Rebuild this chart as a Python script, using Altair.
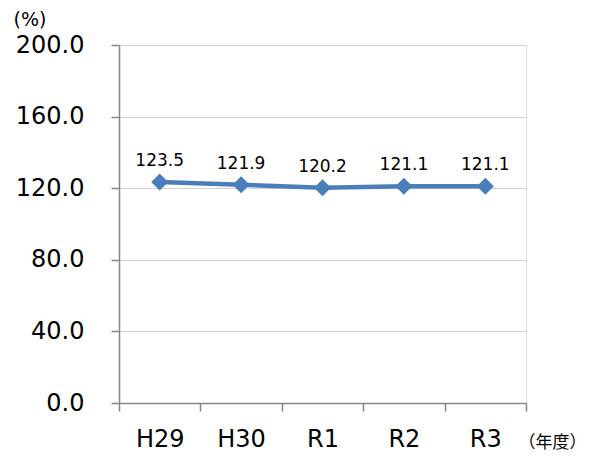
import altair as alt
import pandas as pd

years = ["H29", "H30", "R1", "R2", "R3"]
values = [123.5, 121.9, 120.2, 121.1, 121.1]
labels = ["123.5", "121.9", "120.2", "121.1", "121.1"]

df = pd.DataFrame({"year": years, "value": values, "label": labels})

FONT = "DejaVu Sans"
LINE_COLOR = "#4A7EBB"

x_enc = alt.X(
    "year:N",
    sort=years,
    scale=alt.Scale(type="band", paddingInner=0, paddingOuter=0),
    bandPosition=0.5,
    axis=alt.Axis(
        title="（年度）",
        titleFont="Noto Sans CJK JP",
        titleFontSize=17,
        titleFontWeight="normal",
        titleColor="#000000",
        titleAngle=0,
        titleAlign="left",
        titleBaseline="alphabetic",
        titleX=399,
        titleY=44,
        labelAngle=0,
        labelFont=FONT,
        labelFontSize=24,
        labelColor="#000000",
        labelBaseline="alphabetic",
        labelPadding=35,
        tickBand="extent",
        tickSize=8,
        tickColor="#868686",
        domainColor="#868686",
        domainWidth=1.5,
        tickWidth=1.5,
        grid=False,
    ),
)

y_enc = alt.Y(
    "value:Q",
    scale=alt.Scale(domain=[0, 200], nice=False, zero=True),
    axis=alt.Axis(
        values=[0, 40, 80, 120, 160, 200],
        format=".1f",
        title="(%)",
        titleFont=FONT,
        titleFontSize=19,
        titleFontWeight="normal",
        titleColor="#000000",
        titleAngle=0,
        titleAlign="left",
        titleBaseline="alphabetic",
        titleX=-106,
        titleY=-20,
        labelFont=FONT,
        labelFontSize=24,
        labelColor="#000000",
        labelPadding=27,
        tickSize=8,
        tickColor="#868686",
        domainColor="#868686",
        domainWidth=1.5,
        tickWidth=1.5,
        grid=True,
        gridColor="#D0D0D0",
        gridWidth=1,
    ),
)

base = alt.Chart(df)

line = base.mark_line(color=LINE_COLOR, strokeWidth=4.5).encode(x=x_enc, y=y_enc)
points = base.mark_point(
    shape="diamond", filled=True, size=290, color=LINE_COLOR, opacity=1
).encode(x=x_enc, y=y_enc)
text = base.mark_text(
    font=FONT, fontSize=17, color="#000000", baseline="alphabetic", dy=-16
).encode(x=x_enc, y=y_enc, text="label:N")

chart = (
    alt.layer(line, points, text)
    .properties(
        width=407,
        height=358,
        autosize=alt.AutoSizeParams(type="none"),
        padding={"left": 111, "top": 37, "right": 59, "bottom": 48},
    )
    .configure_view(stroke="#D0D0D0", strokeWidth=1)
    .configure(background="white")
)

chart.save("out.html", embed_options={"renderer": "svg", "actions": False})
